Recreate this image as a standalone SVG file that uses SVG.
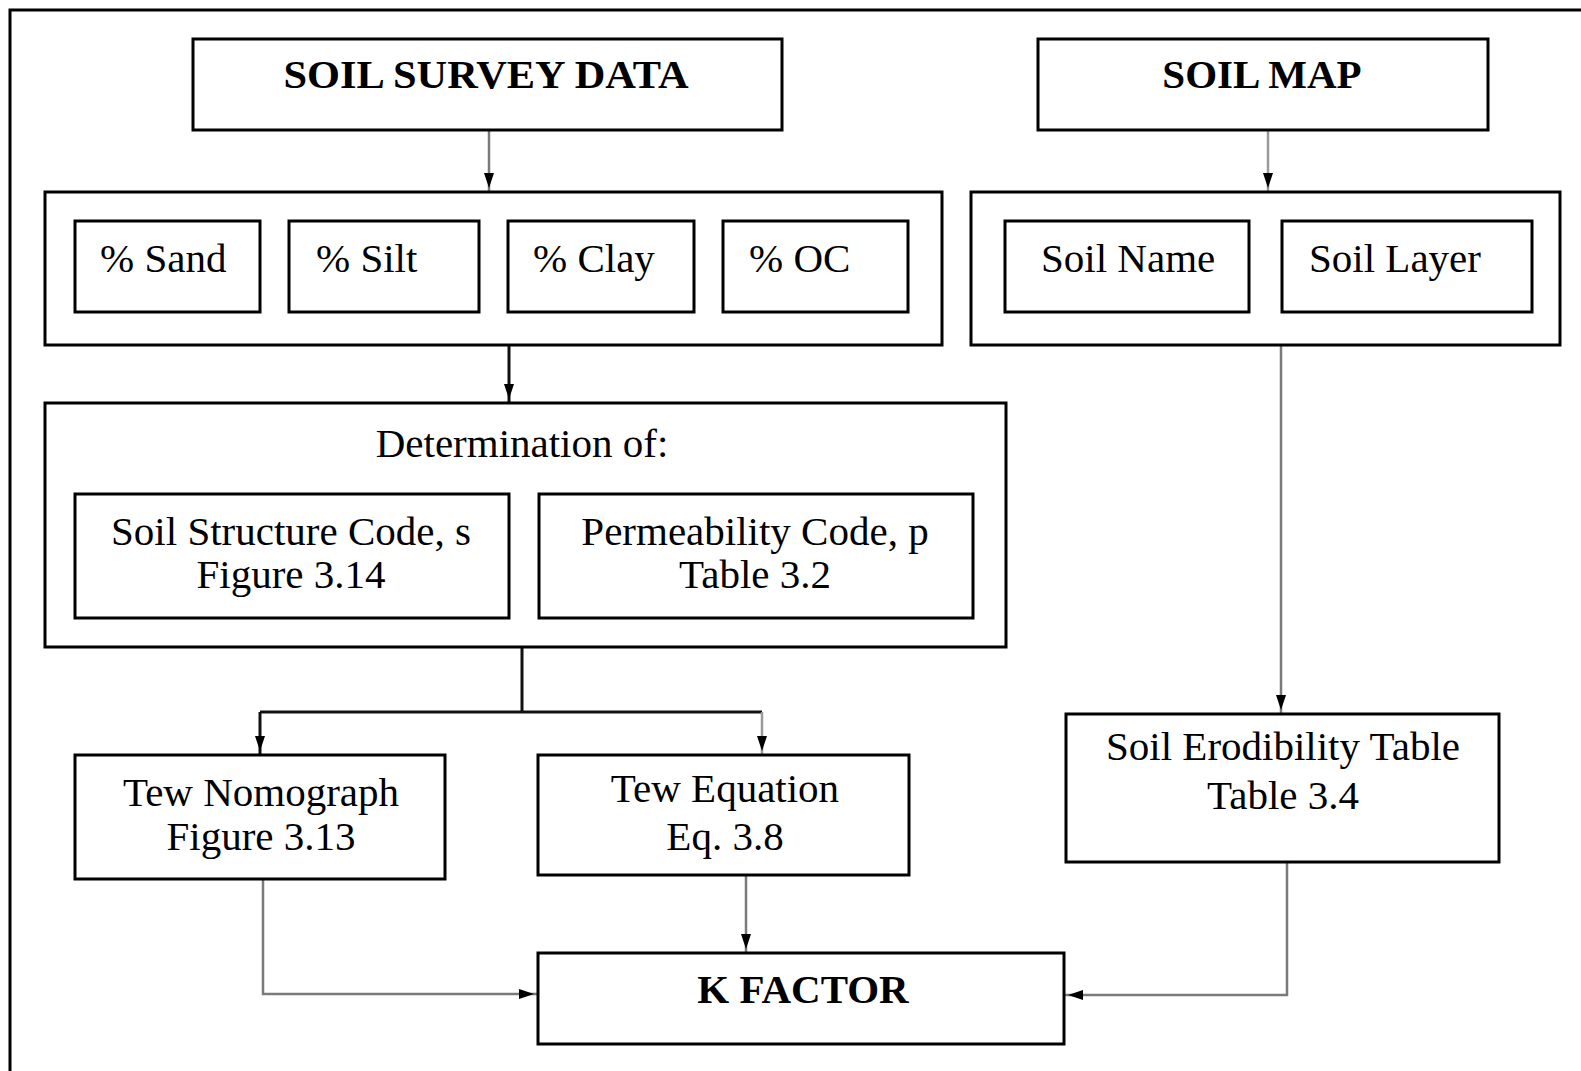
<svg xmlns="http://www.w3.org/2000/svg" width="1581" height="1071" viewBox="0 0 1581 1071">
  <style>
    .box { fill: #ffffff; stroke: #000000; stroke-width: 3; }
    .frame { fill: none; stroke: #000000; stroke-width: 3; }
    .t { font-family: "Liberation Serif", "Times New Roman", serif; font-size: 41px; fill: #000000; }
    .c { text-anchor: middle; }
    .b { font-weight: bold; }
    .link { fill: none; stroke-width: 2.5; }
    .dark { stroke: #111111; stroke-width: 3; }
    .grey { stroke: #7a7a7a; }
    .light { stroke: #9a9a9a; }
  </style>
  <defs>
    <marker id="head" markerUnits="userSpaceOnUse" markerWidth="22" markerHeight="14" viewBox="0 -7 22 14" refX="19" refY="0" orient="auto">
      <path d="M0,-5 L15,0 L0,5 Z" fill="#000000"/>
    </marker>
  </defs>

  <!-- page frame (runs off the right and bottom edges) -->
  <rect class="frame" x="10" y="10" width="1620" height="1120"/>

  <!-- connectors -->
  <g id="connectors">
    <path class="link grey" d="M489 130 V192" marker-end="url(#head)"/>
    <path class="link light" d="M1268 130 V192" marker-end="url(#head)"/>
    <path class="link dark" d="M509 345 V403" marker-end="url(#head)"/>
    <path class="link dark" d="M522 647 V712"/>
    <path class="link dark" d="M260 712 H762"/>
    <path class="link dark" d="M260 712 V755" marker-end="url(#head)"/>
    <path class="link light" d="M762 712 V755" marker-end="url(#head)"/>
    <path class="link grey" d="M1281 345 V714" marker-end="url(#head)"/>
    <path class="link grey" d="M263 879 V994 H538" marker-end="url(#head)"/>
    <path class="link grey" d="M746 875 V953" marker-end="url(#head)"/>
    <path class="link grey" d="M1287 862 V995 H1064" marker-end="url(#head)"/>
  </g>

  <g id="soil-survey-data">
    <rect class="box" x="193" y="39" width="589" height="91"/>
    <text class="t c b" x="486" y="88" textLength="405" lengthAdjust="spacingAndGlyphs">SOIL SURVEY DATA</text>
  </g>

  <g id="soil-map">
    <rect class="box" x="1038" y="39" width="450" height="91"/>
    <text class="t c b" x="1262" y="88">SOIL MAP</text>
  </g>

  <g id="texture-group">
    <rect class="box" x="45" y="192" width="897" height="153"/>
    <g id="sand">
      <rect class="box" x="75" y="221" width="185" height="91"/>
      <text class="t" x="100" y="272">% Sand</text>
    </g>
    <g id="silt">
      <rect class="box" x="289" y="221" width="190" height="91"/>
      <text class="t" x="316" y="272">% Silt</text>
    </g>
    <g id="clay">
      <rect class="box" x="508" y="221" width="186" height="91"/>
      <text class="t" x="533" y="272">% Clay</text>
    </g>
    <g id="oc">
      <rect class="box" x="723" y="221" width="185" height="91"/>
      <text class="t" x="749" y="272">% OC</text>
    </g>
  </g>

  <g id="map-group">
    <rect class="box" x="971" y="192" width="589" height="153"/>
    <g id="soil-name">
      <rect class="box" x="1005" y="221" width="244" height="91"/>
      <text class="t" x="1041" y="272">Soil Name</text>
    </g>
    <g id="soil-layer">
      <rect class="box" x="1282" y="221" width="250" height="91"/>
      <text class="t" x="1309" y="272">Soil Layer</text>
    </g>
  </g>

  <g id="determination">
    <rect class="box" x="45" y="403" width="961" height="244"/>
    <text class="t c" x="522" y="457">Determination of:</text>
    <g id="structure-code">
      <rect class="box" x="75" y="494" width="434" height="124"/>
      <text class="t c" x="291" y="545">Soil Structure Code, s</text>
      <text class="t c" x="291" y="588">Figure 3.14</text>
    </g>
    <g id="permeability-code">
      <rect class="box" x="539" y="494" width="434" height="124"/>
      <text class="t c" x="755" y="545">Permeability Code, p</text>
      <text class="t c" x="755" y="588">Table 3.2</text>
    </g>
  </g>

  <g id="tew-nomograph">
    <rect class="box" x="75" y="755" width="370" height="124"/>
    <text class="t c" x="261" y="806">Tew Nomograph</text>
    <text class="t c" x="261" y="850">Figure 3.13</text>
  </g>

  <g id="tew-equation">
    <rect class="box" x="538" y="755" width="371" height="120"/>
    <text class="t c" x="725" y="802">Tew Equation</text>
    <text class="t c" x="725" y="850">Eq. 3.8</text>
  </g>

  <g id="erodibility-table">
    <rect class="box" x="1066" y="714" width="433" height="148"/>
    <text class="t c" x="1283" y="760">Soil Erodibility Table</text>
    <text class="t c" x="1283" y="809">Table 3.4</text>
  </g>

  <g id="k-factor">
    <rect class="box" x="538" y="953" width="526" height="91"/>
    <text class="t c b" x="803" y="1003">K FACTOR</text>
  </g>
</svg>
